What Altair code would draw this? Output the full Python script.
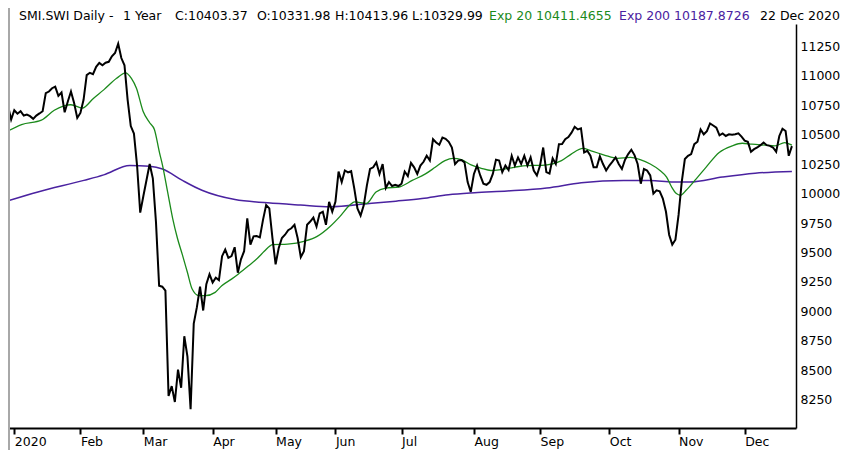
import altair as alt
import pandas as pd

# ---------------- data ----------------
month_labels = ["2020", "Feb", "Mar", "Apr", "May", "Jun", "Jul", "Aug", "Sep", "Oct", "Nov", "Dec"]
month_start_day = [0, 21, 41, 63, 83, 102, 123, 146, 167, 189, 211, 232]  # trading-day index
y_tick_values = [8250, 8500, 8750, 9000, 9250, 9500, 9750, 10000, 10250, 10500, 10750, 11000, 11250]

header_black_1 = ["SMI.SWI Daily -", "1 Year", "C:10403.37", "O:10331.98", "H:10413.96", "L:10329.99"]
header_ema20 = "Exp 20 10411.4655"
header_ema200 = "Exp 200 10187.8726"
header_date = "22 Dec 2020"

close_day = list(range(-2, 248))
close_values = [
    10746, 10628, 10707, 10678, 10699, 10662, 10670, 10657, 10634, 10662, 10680, 10699,
    10852, 10866, 10894, 10908, 10829, 10858, 10690, 10782, 10866, 10768,
    10642, 10684, 10796, 11005, 11025, 11014, 11076, 11109, 11089, 11110,
    11118, 11165, 11193, 11271, 11150, 11089, 10796, 10573, 10510, 10238,
    9838, 9980, 10115, 10251, 10130, 9760, 9218, 9210, 9176, 8282,
    8366, 8232, 8506, 8352, 8790, 8617, 8170, 8897, 9036, 9210,
    9008, 9232, 9316, 9246, 9287, 9266, 9469, 9525, 9455, 9469,
    9545, 9329, 9442, 9511, 9790, 9567, 9637, 9640, 9628, 9777,
    9903, 9874, 9623, 9400, 9539, 9623, 9651, 9690, 9706, 9735,
    9623, 9461, 9511, 9735, 9763, 9796, 9721, 9832, 9846, 9735,
    9930, 9846, 9930, 10187, 10098, 10196, 10180, 10190, 10042, 9874,
    9813, 9900, 10070, 10209, 10223, 10265, 10167, 10251, 10047, 10098,
    10064, 10075, 10064, 10084, 10187, 10148, 10260, 10223, 10167, 10238,
    10270, 10321, 10280, 10461, 10433, 10414, 10475, 10465, 10439, 10391,
    10250, 10280, 10285, 10265, 10098, 10014, 10167, 10238, 10154, 10084,
    10075, 10098, 10167, 10288, 10280, 10182, 10238, 10200, 10321, 10238,
    10307, 10251, 10321, 10238, 10307, 10196, 10154, 10238, 10391, 10182,
    10170, 10299, 10251, 10419, 10420, 10461, 10480, 10517, 10567, 10544,
    10553, 10349, 10363, 10321, 10223, 10223, 10316, 10251, 10196, 10238,
    10271, 10307, 10251, 10209, 10288, 10335, 10372, 10327, 10251, 10084,
    10209, 10196, 10154, 10000, 10028, 10020, 9958, 9846, 9651, 9567,
    9609, 9819, 10098, 10293, 10321, 10335, 10419, 10440, 10544, 10503,
    10530, 10595, 10578, 10559, 10494, 10511, 10489, 10503, 10500, 10503,
    10511, 10483, 10450, 10439, 10355, 10377, 10391, 10411, 10433, 10411,
    10405, 10391, 10355, 10489, 10550, 10531, 10321, 10403,
]

ema20_day = [-2, 2.3, 8.6, 12.7, 18.0, 21.6, 25.2, 28.4, 32.5, 35.3, 37.2, 38.8, 40.9, 43.0,
             44.5, 46.1, 47.1, 48.7, 50.3, 51.8, 53.4, 55.0, 56.5, 58.6, 60.7, 63.8, 65.9,
             69.0, 71.1, 74.3, 77.4, 79.4, 82.1, 86.8, 92.0, 96.2, 100.3, 103.4, 106.6,
             108.1, 111.8, 114.9, 118.0, 122.2, 126.4, 130.6, 133.7, 136.8, 139.4, 142.0,
             145.1, 148.3, 151.4, 154.5, 158.7, 162.9, 167.6, 173.8, 176.9, 180.6, 183.2,
             187.4, 191.6, 195.7, 198.8, 202.0, 205.1, 207.2, 208.8, 210.3, 211.6, 213.4,
             216.6, 219.7, 223.9, 228.0, 231.2, 234.3, 238.5, 241.6, 244.7, 247]
ema20_values = [10531, 10586, 10623, 10707, 10754, 10726, 10810, 10880, 10978, 11025, 10978,
                10894, 10699, 10601, 10544, 10349, 10238, 10014, 9790, 9623, 9480, 9330, 9190,
                9134, 9134, 9162, 9218, 9274, 9316, 9385, 9455, 9511, 9567, 9572, 9595, 9637,
                9721, 9805, 9903, 9930, 9916, 10014, 10047, 10056, 10112, 10167, 10223, 10280,
                10299, 10288, 10243, 10215, 10196, 10204, 10223, 10238, 10240, 10280, 10335,
                10383, 10363, 10327, 10299, 10307, 10288, 10251, 10196, 10140, 10056, 10000,
                9986, 10028, 10125, 10223, 10349, 10405, 10427, 10419, 10411, 10405, 10433,
                10411]

ema200_day = [-2, 7.5, 22.1, 28.4, 36.7, 43.0, 47.1, 53.4, 59.6, 70.1, 80.5, 90.9, 100.3,
              112.8, 121.2, 129.5, 137.9, 146.2, 156.6, 169.1, 180.1, 193.6, 202.0, 209.3,
              214.5, 224.9, 235.3, 247]
ema200_values = [9939, 10014, 10112, 10159, 10238, 10232, 10209, 10112, 10028, 9949, 9922,
                 9903, 9888, 9916, 9936, 9958, 9991, 10008, 10022, 10047, 10092, 10112, 10112,
                 10098, 10098, 10140, 10173, 10188]

# ---------------- styling ----------------
FONT = "DejaVu Sans"
GREEN = "#1b8a1b"
PURPLE = "#4a22a0"
W, H = 788, 404
PAD = {"left": 0, "top": 16, "right": 46, "bottom": 22}

df_close = pd.DataFrame({"day": close_day, "value": close_values})
df_ema20 = pd.DataFrame({"day": ema20_day, "value": ema20_values})
df_ema200 = pd.DataFrame({"day": ema200_day, "value": ema200_values})

x_scale = alt.Scale(domain=[-2, 248.3], nice=False, zero=False)
y_scale = alt.Scale(domain=[8011, 11439], nice=False, zero=False)

label_expr = (
    "[" + ",".join(f"'{m}'" for m in month_labels) + "]"
    + "[indexof([" + ",".join(str(d) for d in month_start_day) + "], datum.value)]"
)

x_axis = alt.Axis(
    values=month_start_day, labelExpr=label_expr, title=None, grid=False,
    domainColor="black", domainWidth=2, tickColor="black", tickWidth=2, tickSize=6,
    labelAlign="left", labelBaseline="top", labelPadding=1, labelFont=FONT,
    labelFontSize=12.5, labelColor="black", labelFlush=False, labelOverlap=False,
)
y_axis = alt.Axis(
    orient="right", values=y_tick_values, format="d", title=None, grid=False,
    domainColor="black", domainWidth=1.5, ticks=False, tickSize=0, labelPadding=4,
    labelFont=FONT, labelFontSize=12.5, labelColor="black", labelOverlap=False,
    labelFlush=False,
)

X = alt.X("day:Q", scale=x_scale, axis=x_axis)
Y = alt.Y("value:Q", scale=y_scale, axis=y_axis)

ema200_line = alt.Chart(df_ema200).mark_line(
    color=PURPLE, strokeWidth=1.5, interpolate="monotone", clip=True
).encode(x=X, y=Y)
ema20_line = alt.Chart(df_ema20).mark_line(
    color=GREEN, strokeWidth=1.3, interpolate="monotone", clip=True
).encode(x=X, y=Y)
close_line = alt.Chart(df_close).mark_line(
    color="black", strokeWidth=2, clip=True
).encode(x=X, y=Y)

# gray window border on the left side, as in the reference
left_border = alt.Chart(pd.DataFrame({"k": [0]})).mark_rule(
    color="#a8a8a8", strokeWidth=2
).encode(
    x=alt.value(1), y=alt.value(-PAD["top"]), y2=alt.value(H + PAD["bottom"])
)

# header texts (page x positions minus the 8px margin)
header_specs = [
    (header_black_1[0], 11, "black"),
    (header_black_1[1], 115, "black"),
    (header_black_1[2], 167, "black"),
    (header_black_1[3], 249, "black"),
    (header_black_1[4], 327, "black"),
    (header_black_1[5], 404, "black"),
    (header_ema20, 481, GREEN),
    (header_ema200, 611, PURPLE),
    (header_date, 752, "black"),
]
header_layers = []
for txt, px, col in header_specs:
    header_layers.append(
        alt.Chart(pd.DataFrame({"label": [txt]})).mark_text(
            align="left", baseline="middle", font=FONT, fontSize=12.5, color=col
        ).encode(x=alt.value(px), y=alt.value(-8), text="label:N")
    )

chart = alt.layer(ema200_line, ema20_line, close_line, left_border, *header_layers).properties(
    width=W,
    height=H,
    padding=PAD,
    autosize=alt.AutoSizeParams(type="none"),
    background="white",
).configure_view(stroke=None)

chart.save("out.html", embed_options={"renderer": "svg", "actions": False})
